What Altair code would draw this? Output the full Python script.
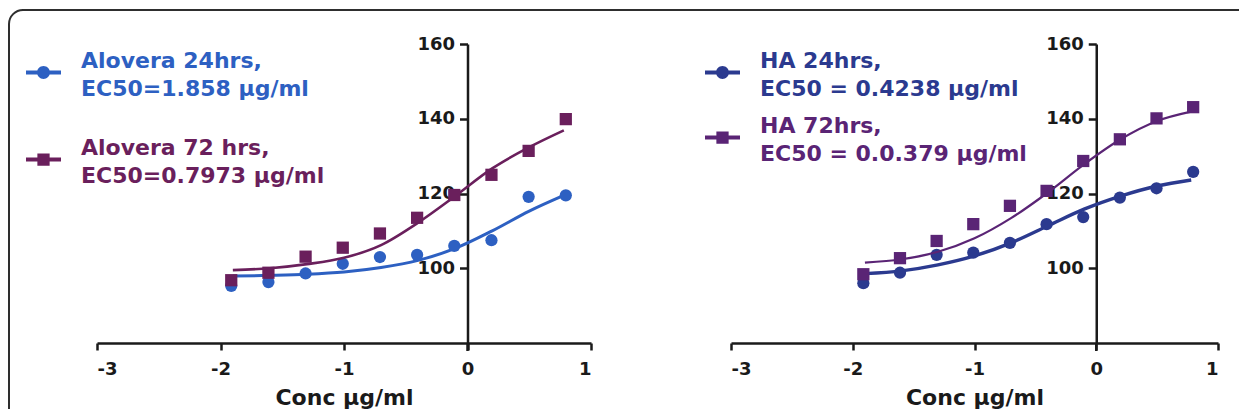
import altair as alt
import pandas as pd

# ---- data ----
conc_log = [-1.913, -1.612, -1.311, -1.010, -0.709, -0.408, -0.107, 0.194, 0.495, 0.796]

alo24_pts = [95.3, 96.3, 98.6, 101.2, 103.0, 103.6, 106.0, 107.5, 119.1, 119.5]
alo72_pts = [96.8, 98.8, 103.1, 105.5, 109.3, 113.5, 119.6, 125.0, 131.4, 139.9]
ha24_pts = [96.0, 98.8, 103.6, 104.2, 106.8, 111.8, 113.7, 118.9, 121.4, 125.8]
ha72_pts = [98.4, 102.7, 107.3, 111.8, 116.7, 120.7, 128.7, 134.5, 140.1, 143.1]

fit_x = [-1.9, -1.6, -1.3, -1.0, -0.7, -0.4, -0.1, 0.2, 0.5, 0.78]
alo24_fit = [97.9, 98.1, 98.4, 99.0, 100.2, 102.1, 105.3, 110.0, 115.3, 119.5]
alo72_fit = [99.5, 100.0, 101.1, 102.8, 106.2, 112.2, 119.3, 126.7, 132.4, 136.9]
ha24_fit = [98.55, 99.3, 100.9, 103.3, 106.8, 111.3, 115.8, 119.3, 122.0, 123.6]
ha72_fit = [101.5, 102.4, 104.4, 108.0, 113.4, 120.2, 127.8, 134.5, 139.4, 141.9]

left_labels = ["Alovera 24hrs,|EC50=1.858 µg/ml", "Alovera 72 hrs,|EC50=0.7973 µg/ml"]
right_labels = ["HA 24hrs,|EC50 = 0.4238 µg/ml", "HA 72hrs,|EC50 = 0.0.379 µg/ml"]

x_ticks = [-3, -2, -1, 0, 1]
y_ticks = [100, 120, 140, 160]
x_title = "Conc µg/ml"

# ---- styling ----
FONT = "DejaVu Sans"
INK = "#1a1a1a"
FRAME = "#2e2e2e"
PLOT_H = 299

CIRCLE_SYM = "M-1,-0.11H1V0.11H-1Z M0.37,0A0.37,0.37,0,1,1,-0.37,0A0.37,0.37,0,1,1,0.37,0Z"
SQUARE_SYM = "M-1,-0.11H1V0.11H-1Z M-0.35,-0.35H0.35V0.35H-0.35Z"

one = pd.DataFrame({"k": [0]})


def enc_x():
    return alt.X(
        "x:Q",
        scale=alt.Scale(domain=[-3, 1], nice=False, zero=False),
        axis=alt.Axis(
            values=x_ticks, labelExpr="'' + datum.value", grid=False,
            domainColor=INK, domainWidth=2.5, tickColor=INK, tickWidth=2.5, tickSize=7,
            labelFont=FONT, labelFontSize=18, labelFontWeight="bold", labelColor=INK,
            labelPadding=10, title=x_title, titleFont=FONT, titleFontSize=22,
            titleFontWeight="bold", titleColor=INK, titlePadding=9,
        ),
    )


def enc_y(offset):
    return alt.Y(
        "y:Q",
        scale=alt.Scale(domain=[80, 160], nice=False, zero=False),
        axis=alt.Axis(
            values=y_ticks, format="d", grid=False, offset=offset, title=None,
            domainColor=INK, domainWidth=2.5, tickColor=INK, tickWidth=2.5, tickSize=8,
            labelFont=FONT, labelFontSize=18, labelFontWeight="bold", labelColor=INK,
            labelPadding=5,
        ),
    )


def series_layers(xs, pts, fxs, fit, label, color, shape, sym, msize, lw, lx, ly, yoff):
    pdf = pd.DataFrame({"x": xs, "y": pts, "series": [label] * len(xs)})
    fdf = pd.DataFrame({"x": fxs, "y": fit})
    line = alt.Chart(fdf).mark_line(color=color, strokeWidth=lw, interpolate="monotone").encode(
        x=enc_x(), y=enc_y(yoff)
    )
    pts_layer = alt.Chart(pdf).mark_point(filled=True, shape=shape, size=msize, opacity=1).encode(
        x=enc_x(),
        y=enc_y(yoff),
        color=alt.Color(
            "series:N",
            scale=alt.Scale(domain=[label], range=[color]),
            legend=alt.Legend(
                orient="none", legendX=lx, legendY=ly, title=None, padding=0,
                symbolType=sym, symbolSize=1225, symbolStrokeWidth=0, symbolOpacity=1,
                labelExpr="split(datum.label, '|')", labelFont=FONT, labelFontSize=22,
                labelFontWeight="bold", labelColor=color, labelOffset=20, labelLimit=500,
                labelBaseline="bottom",
            ),
        ),
    )
    return [line, pts_layer]


def yext(px):
    return alt.Chart(one).mark_rule(color=INK, strokeWidth=2.5).encode(
        x=alt.value(px), y=alt.value(PLOT_H), y2=alt.value(PLOT_H + 8)
    )


# ---- left panel ----
L_W = 494
L_ZERO = L_W * 3 / 4
left_frame = [
    alt.Chart(one).mark_rule(color=FRAME, strokeWidth=2).encode(
        x=alt.value(-88), y=alt.value(-20), y2=alt.value(365)
    ),
    alt.Chart(one).mark_rule(color=FRAME, strokeWidth=2, strokeCap="square").encode(
        x=alt.value(-74), x2=alt.value(502), y=alt.value(-34)
    ),
    alt.Chart(one).mark_arc(radius=15, radius2=13, theta=4.7124, theta2=6.2832, color=FRAME).encode(
        x=alt.value(-74), y=alt.value(-20)
    ),
]
left_layers = (
    left_frame
    + [yext(L_ZERO)]
    + series_layers(conc_log, alo24_pts, fit_x, alo24_fit, left_labels[0], "#2d60c2",
                    "circle", CIRCLE_SYM, 150, 3, -71, 11, -L_ZERO)
    + series_layers(conc_log, alo72_pts, fit_x, alo72_fit, left_labels[1], "#6a1f5c",
                    "square", SQUARE_SYM, 150, 2.6, -71, 98, -L_ZERO)
)
left = alt.layer(*left_layers).resolve_scale(color="independent").properties(width=L_W, height=PLOT_H)

# ---- right panel ----
R_W = 487
R_ZERO = R_W * 3 / 4
right_frame = [
    alt.Chart(one).mark_rule(color=FRAME, strokeWidth=2, strokeCap="square").encode(
        x=alt.value(-132), x2=alt.value(507), y=alt.value(-34)
    ),
]
right_layers = (
    right_frame
    + [yext(R_ZERO)]
    + series_layers(conc_log, ha24_pts, fit_x, ha24_fit, right_labels[0], "#2b3a8f",
                    "circle", CIRCLE_SYM, 150, 3.4, -26, 11, -R_ZERO)
    + series_layers(conc_log, ha72_pts, fit_x, ha72_fit, right_labels[1], "#5a2475",
                    "square", SQUARE_SYM, 150, 2.2, -26, 76, -R_ZERO)
)
right = alt.layer(*right_layers).resolve_scale(color="independent").properties(width=R_W, height=PLOT_H)

chart = (
    alt.hconcat(left, right, spacing=-4)
    .properties(padding={"left": 0, "top": 0, "right": 0, "bottom": 0}, background="white")
    .configure(font=FONT, style={"guide-label": {"lineHeight": 28}})
    .configure_view(stroke=None, strokeWidth=0)
)

chart.save("out.html", embed_options={"renderer": "svg", "actions": False})
